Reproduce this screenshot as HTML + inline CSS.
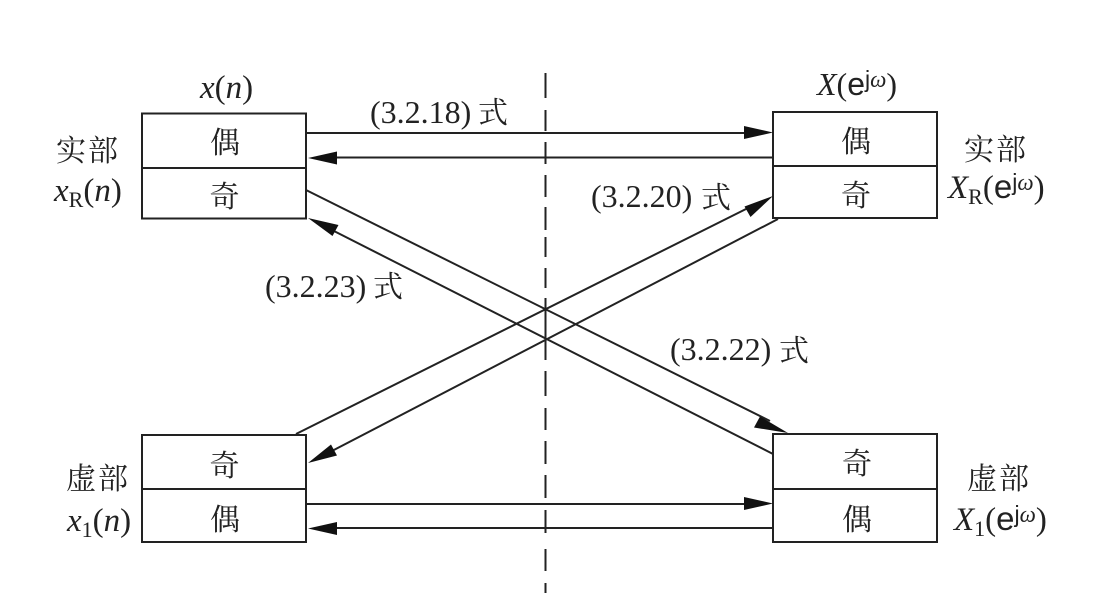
<!DOCTYPE html>
<html><head><meta charset="utf-8"><style>
html,body{margin:0;padding:0;background:#fff}
svg{display:block}
text{font-family:"Liberation Serif","Noto Serif CJK SC",serif;fill:#222;font-size:32px}
.c{font-family:"Noto Serif CJK SC",serif;font-size:30px;fill:#222}
.m{font-size:33px}
.i{font-style:italic}
.s{font-size:22px}
.u{font-size:23px}
.e{font-family:"Liberation Sans",sans-serif}
</style></head><body>
<svg width="1120" height="593" viewBox="0 0 1120 593" xmlns="http://www.w3.org/2000/svg">
<rect width="1120" height="593" fill="#fff"/>
<g stroke="#222" stroke-width="2" fill="none">
<rect x="142" y="113.500" width="164" height="105"/><line x1="142" y1="168" x2="306" y2="168"/>
<rect x="773" y="112" width="164" height="106"/><line x1="773" y1="166" x2="937" y2="166"/>
<rect x="142" y="435" width="164" height="107"/><line x1="142" y1="489" x2="306" y2="489"/>
<rect x="773" y="434" width="164" height="108"/><line x1="773" y1="489" x2="937" y2="489"/>
<path d="M306 133H750M773 157.500H330M306 504H750M773 528H330"/>
<path d="M306 190L770 421M773 454L330 229M296 434L750 207M778 219L330 452"/>
<path d="M545.500 73V98M545.500 110V131M545.500 142V164M545.500 175V197M545.500 207V230M545.500 237V257M545.500 268V288M545.500 298V360M545.500 371V396M545.500 408V430M545.500 441V464M545.500 475V498M545.500 510V533M545.500 549V571M545.500 583V593"/>
</g>
<g fill="#111">
<path d="M773 132.500L744 126V139Z"/>
<path d="M308 158L337 151.500V164.500Z"/>
<path d="M773 503.500L744 497V510Z"/>
<path d="M308 528.500L337 522V535Z"/>
<path d="M773 196L744.500 206.500L750.500 217Z"/>
<path d="M308 218L332.500 236L338.500 225Z"/>
<path d="M788 433L760 416.500L754 427.500Z"/>
<path d="M308 463L331 444.500L337 455.500Z"/>
</g>
<text class="c" x="210" y="153">偶</text>
<text class="c" x="209.500" y="207">奇</text>
<text class="c" x="209.500" y="476">奇</text>
<text class="c" x="210" y="530">偶</text>
<text class="c" x="841" y="152">偶</text>
<text class="c" x="841" y="206">奇</text>
<text class="c" x="842" y="474">奇</text>
<text class="c" x="842" y="530">偶</text>
<text class="c" x="56" y="161" textLength="62">实部</text>
<text class="c" x="964" y="160" textLength="62">实部</text>
<text class="c" x="66" y="489" textLength="62">虚部</text>
<text class="c" x="967" y="489" textLength="62">虚部</text>
<text class="m" x="200" y="98"><tspan class="i">x</tspan>(<tspan class="i">n</tspan>)</text>
<text class="m" x="54" y="201"><tspan class="i">x</tspan><tspan class="s" dy="6">R</tspan><tspan dy="-6">(</tspan><tspan class="i">n</tspan>)</text>
<text class="m" x="67" y="531"><tspan class="i">x</tspan><tspan class="s" dy="6">1</tspan><tspan dy="-6">(</tspan><tspan class="i">n</tspan>)</text>
<text class="m" x="817" y="95" style="font-size:32px"><tspan class="i">X</tspan>(<tspan class="e">e</tspan><tspan class="u e" dy="-8">j</tspan><tspan class="u i">ω</tspan><tspan dy="8">)</tspan></text>
<text class="m" x="948" y="198"><tspan class="i">X</tspan><tspan class="s" dy="6">R</tspan><tspan dy="-6">(</tspan><tspan class="e">e</tspan><tspan class="u e" dy="-8">j</tspan><tspan class="u i">ω</tspan><tspan dy="8">)</tspan></text>
<text class="m" x="954" y="530"><tspan class="i">X</tspan><tspan class="s" dy="6">1</tspan><tspan dy="-6">(</tspan><tspan class="e">e</tspan><tspan class="u e" dy="-8">j</tspan><tspan class="u i">ω</tspan><tspan dy="8">)</tspan></text>
<text x="370" y="123">(3.2.18)</text><text class="c" x="478" y="123">式</text>
<text x="591" y="207">(3.2.20)</text><text class="c" x="701" y="208">式</text>
<text x="265" y="297">(3.2.23)</text><text class="c" x="373" y="297">式</text>
<text x="670" y="360">(3.2.22)</text><text class="c" x="779" y="361">式</text>
</svg>
</body></html>
